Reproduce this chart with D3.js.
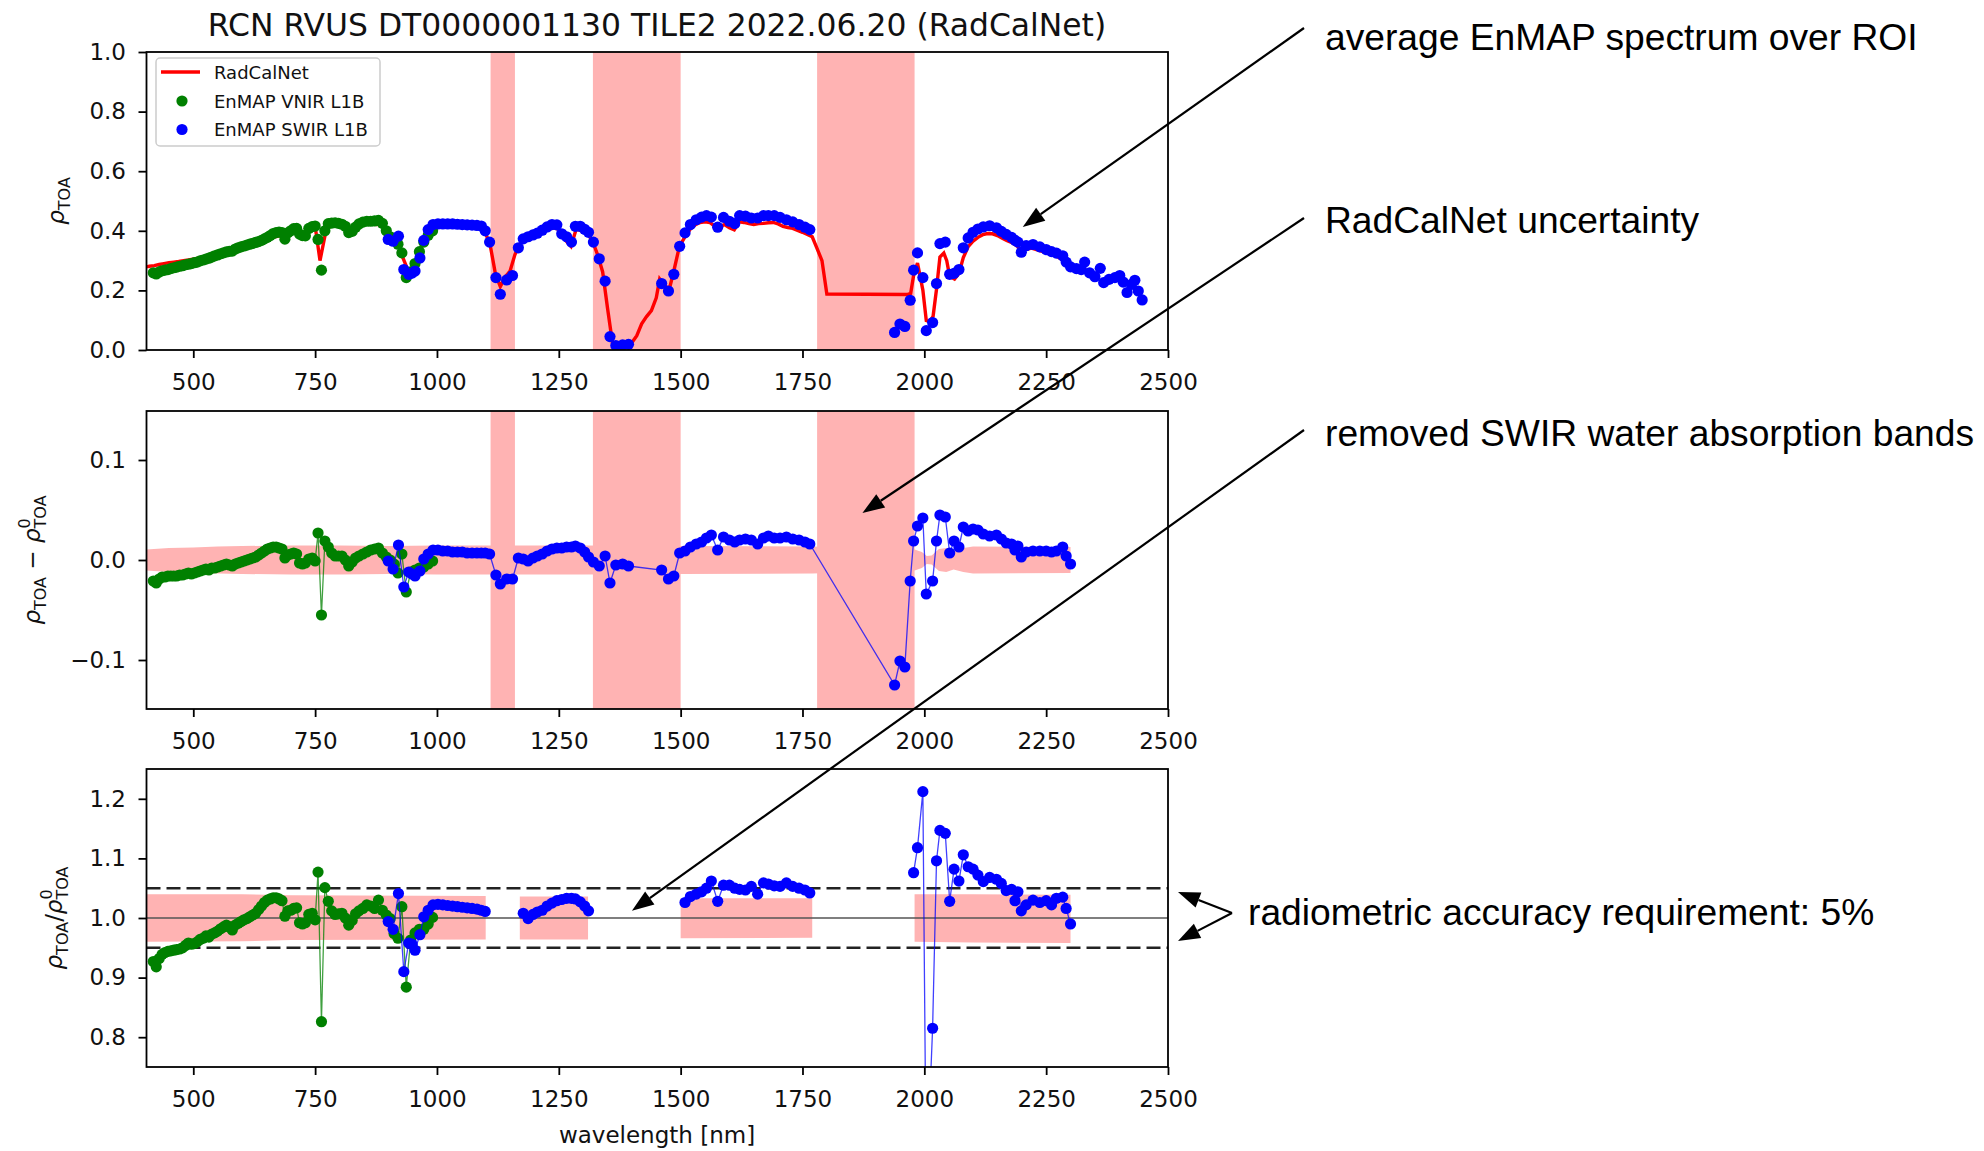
<!DOCTYPE html>
<html>
<head>
<meta charset="utf-8">
<script src="https://cdn.jsdelivr.net/npm/d3@7"></script>
<style>
  body { margin: 0; background: #fff; }
  text { font-family: "DejaVu Sans", sans-serif; }
</style>
</head>
<body>
<script>
// ---- EnMAP VNIR (green) : wavelength, rho_TOA, difference to RadCalNet, ratio to RadCalNet
var vnirWl = [418,424,430,436,442,448,454,460,466,472,
  478,484,490,496,502,508,514,520,526,532,
  538,544,550,556,562,568,574,580,586,592,
  598,604,610,616,622,628,634,640,646,652,
  658,664,670,676,682,688,694,700,706,712,
  718,724,730,737,744,750,756,763,770,777,
  784,791,798,805,812,819,826,833,840,848,
  856,864,872,880,888,896,904,912,920,928,
  937,946,955,964,973,982,991];
var vnirToa = [0.259,0.255,0.262,0.266,0.268,0.270,0.273,0.276,0.278,0.281,
  0.283,0.286,0.288,0.290,0.293,0.295,0.299,0.302,0.305,0.308,
  0.312,0.316,0.319,0.323,0.326,0.329,0.331,0.332,0.339,0.343,
  0.346,0.349,0.352,0.355,0.358,0.361,0.364,0.368,0.373,0.378,
  0.384,0.391,0.394,0.396,0.394,0.372,0.393,0.400,0.407,0.408,
  0.389,0.384,0.383,0.408,0.414,0.416,0.371,0.268,0.400,0.424,
  0.426,0.427,0.425,0.422,0.415,0.394,0.398,0.412,0.423,0.429,
  0.432,0.432,0.433,0.435,0.425,0.400,0.380,0.368,0.355,0.326,
  0.243,0.262,0.290,0.330,0.362,0.385,0.400];
var vnirDiff = [-0.021,-0.023,-0.019,-0.017,-0.017,-0.016,-0.016,-0.016,-0.016,-0.015,
  -0.015,-0.014,-0.013,-0.014,-0.013,-0.012,-0.011,-0.010,-0.009,-0.010,
  -0.008,-0.008,-0.007,-0.006,-0.005,-0.004,-0.005,-0.006,-0.004,-0.003,
  -0.002,-0.001,0.000,0.001,0.002,0.003,0.005,0.007,0.009,0.011,
  0.012,0.013,0.013,0.012,0.011,0.002,0.005,0.006,0.007,0.006,
  -0.003,-0.004,-0.003,0.001,0.002,-0.001,0.027,-0.055,0.019,0.013,
  0.007,0.004,0.004,0.004,0.000,-0.006,-0.002,0.002,0.004,0.006,
  0.008,0.010,0.011,0.012,0.007,0.003,0.000,-0.004,-0.013,0.006,
  -0.032,-0.012,-0.010,-0.008,-0.007,-0.004,-0.001];
var vnirRatio = [0.927,0.918,0.932,0.939,0.942,0.944,0.945,0.946,0.947,0.948,
  0.950,0.954,0.958,0.956,0.957,0.960,0.964,0.966,0.970,0.968,
  0.973,0.975,0.978,0.982,0.985,0.988,0.985,0.980,0.988,0.991,
  0.994,0.997,0.999,1.002,1.005,1.008,1.014,1.020,1.026,1.030,
  1.032,1.034,1.034,1.032,1.029,1.003,1.012,1.013,1.016,1.017,
  0.992,0.990,0.992,1.006,1.008,0.997,1.077,0.826,1.051,1.028,
  1.012,1.006,1.007,1.008,1.000,0.988,0.996,1.007,1.012,1.016,
  1.022,1.020,1.016,1.030,1.013,1.005,0.999,0.974,0.966,1.019,
  0.884,0.963,0.975,0.981,0.981,0.990,1.001];

// ---- EnMAP SWIR (blue); null = not shown in that panel
var swirWl = [900,910,921,932,942,949,955,965,973,982,
  992,1002,1012,1022,1032,1042,1052,1062,1072,1082,
  1091,1099,1108,1121,1130,1143,1155,1167,1177,1187,
  1197,1206,1216,1226,1236,1246,1256,1266,1276,1284,
  1294,1303,1311,1321,1333,1345,1355,1367,1381,1393,
  1461,1475,1486,1498,1509,1520,1532,1543,1553,1563,
  1576,1588,1600,1611,1621,1633,1645,1658,1670,1680,
  1692,1704,1717,1730,1743,1755,1765,1939,1950,1960,
  1971,1978,1986,1997,2004,2017,2025,2032,2043,2052,
  2061,2071,2080,2090,2100,2110,2121,2134,2148,2158,
  2168,2179,2186,2192,2199,2209,2223,2237,2250,2261,
  2271,2284,2291,2300,2312,2322,2329,2339,2350,2361,
  2368,2379,2391,2401,2408,2416,2425,2432,2439,2447];
var swirToa = [0.371,0.365,0.382,0.270,0.254,0.258,0.265,0.309,0.368,0.404,
  0.421,0.423,0.423,0.423,0.423,0.422,0.421,0.420,0.419,0.418,
  0.416,0.400,0.362,0.243,0.187,0.235,0.250,0.343,0.373,0.380,
  0.386,0.392,0.402,0.413,0.421,0.420,0.390,0.380,0.362,0.415,
  0.415,0.405,0.395,0.362,0.306,0.231,0.045,0.015,0.017,0.019,
  0.223,0.198,0.254,0.348,0.393,0.421,0.437,0.446,0.451,0.446,
  0.412,0.445,0.432,0.424,0.451,0.449,0.443,0.443,0.451,0.451,
  0.451,0.445,0.437,0.430,0.421,0.412,0.404,0.059,0.087,0.079,
  0.167,0.268,0.326,0.243,0.065,0.092,0.223,0.357,0.362,0.254,
  0.257,0.270,0.343,0.376,0.395,0.406,0.413,0.417,0.410,0.398,
  0.388,0.378,0.368,0.362,0.328,0.350,0.354,0.346,0.337,0.330,
  0.325,0.316,0.295,0.279,0.273,0.270,0.295,0.259,0.246,0.274,
  0.226,0.237,0.243,0.250,0.228,0.193,0.220,0.234,0.198,0.168];
var swirDiff = [-0.001,-0.009,0.015,-0.027,-0.012,-0.014,-0.016,-0.011,0.001,0.006,
  0.010,0.010,0.009,0.009,0.008,0.008,0.008,0.007,0.007,0.007,
  0.007,0.007,0.006,-0.015,-0.024,-0.019,-0.019,0.002,0.001,-0.001,
  0.002,0.004,0.006,0.009,0.011,0.012,0.012,0.013,0.013,0.014,
  0.012,0.008,0.003,-0.002,-0.006,0.004,-0.023,-0.005,-0.004,-0.006,
  -0.010,-0.019,-0.016,0.007,0.009,0.013,0.016,0.018,0.022,0.025,
  0.010,0.023,0.020,0.018,0.020,0.021,0.020,0.016,0.022,0.024,
  0.022,0.022,0.023,0.021,0.020,0.018,0.016,-0.125,-0.101,-0.107,
  -0.021,0.019,0.034,0.042,-0.034,-0.021,0.019,0.045,0.043,0.007,
  0.019,0.013,0.033,0.029,0.031,0.030,0.026,0.024,0.025,0.021,
  0.017,0.016,0.010,0.014,0.003,0.008,0.009,0.009,0.009,0.008,
  0.009,0.013,0.004,-0.004,null,null,null,null,null,null,
  null,null,null,null,null,null,null,null,null,null];
var swirRatio = [0.994,0.981,1.041,0.910,0.958,0.956,0.946,0.972,1.002,1.013,
  1.022,1.023,1.022,1.021,1.020,1.019,1.018,1.017,1.016,1.015,
  1.013,1.011,null,null,null,null,null,null,1.008,0.999,
  1.006,1.010,1.013,1.020,1.025,1.029,1.031,1.033,1.033,1.032,
  1.027,1.020,1.012,null,null,null,null,null,null,null,
  null,null,null,null,1.026,1.036,1.040,1.044,1.050,1.062,
  1.028,1.055,1.055,1.050,1.048,1.047,1.053,1.040,1.059,1.057,
  1.054,1.053,1.059,1.053,1.050,1.047,1.042,null,null,null,
  null,1.076,1.118,1.212,0.55,0.815,1.096,1.147,1.142,1.028,
  1.082,1.062,1.106,1.086,1.082,1.072,1.061,1.068,1.065,1.058,
  1.046,1.048,1.029,1.044,1.012,1.022,1.030,1.026,1.029,1.022,
  1.033,1.035,1.016,0.990,null,null,null,null,null,null,
  null,null,null,null,null,null,null,null,null,null];

// ---- RadCalNet reference spectrum
var rcnWl = [400,410,420,430,440,450,460,470,480,490,500,510,520,530,540,550,560,570,580,590,
  600,610,620,630,640,650,660,670,680,690,700,710,720,730,740,750,760,770,780,790,
  800,810,820,830,840,850,860,870,880,890,900,910,920,930,940,950,960,970,980,990,
  1000,1010,1020,1030,1040,1050,1060,1070,1080,1090,1100,1110,1120,1130,1140,1150,1160,1170,1180,1190,
  1200,1210,1220,1230,1240,1250,1260,1275,1285,1290,1300,1310,1320,1330,1340,1350,1360,1370,1380,1390,
  1400,1410,1420,1430,1440,1450,1457,1467,1477,1486,1495,1500,1510,1520,1530,1540,1550,1560,1570,1580,
  1590,1600,1610,1620,1630,1640,1650,1660,1670,1680,1690,1700,1710,1720,1730,1740,1750,1760,1770,1780,
  1790,1800,1965,1972,1978,1986,1997,2004,2011,2018,2025,2032,2040,2046,2052,2062,2071,2080,2090,2100,
  2110,2120,2130,2140,2150,2160,2170,2180,2190,2200,2210,2220,2230,2240,2250,2260,2270,2280,2290,2300];
var rcnToa = [0.278,0.281,0.283,0.287,0.290,0.293,0.295,0.297,0.300,0.302,0.305,0.308,0.312,0.316,0.320,0.325,0.329,0.334,0.338,0.343,
  0.348,0.352,0.356,0.359,0.362,0.367,0.375,0.381,0.384,0.387,0.393,0.400,0.392,0.386,0.404,0.416,0.300,0.382,0.418,0.423,
  0.421,0.417,0.400,0.403,0.418,0.423,0.424,0.422,0.421,0.418,0.385,0.376,0.366,0.310,0.270,0.270,0.300,0.355,0.390,0.405,
  0.413,0.414,0.414,0.415,0.414,0.414,0.413,0.412,0.412,0.410,0.392,0.345,0.255,0.213,0.245,0.265,0.320,0.355,0.370,0.381,
  0.383,0.390,0.398,0.406,0.410,0.405,0.375,0.348,0.402,0.404,0.397,0.390,0.362,0.318,0.262,0.140,0.025,0.010,0.010,0.012,
  0.025,0.048,0.088,0.112,0.132,0.175,0.238,0.215,0.206,0.265,0.330,0.355,0.383,0.406,0.420,0.428,0.430,0.428,0.415,0.413,
  0.421,0.410,0.403,0.430,0.428,0.424,0.421,0.424,0.425,0.427,0.428,0.423,0.415,0.411,0.408,0.401,0.395,0.388,0.380,0.340,
  0.300,0.188,0.186,0.190,0.250,0.292,0.201,0.099,0.095,0.113,0.204,0.312,0.325,0.300,0.247,0.238,0.257,0.310,0.347,0.365,
  0.378,0.387,0.391,0.390,0.384,0.375,0.367,0.360,0.350,0.330,0.338,0.342,0.337,0.332,0.328,0.323,0.316,0.306,0.292,0.283];

// ---- RadCalNet uncertainty: absolute half width (middle), relative bounds (bottom)
var midUncWl = [404,450,500,550,600,700,800,900,1000,1100,1300,1500,1770,1980,1995,2005,2015,2030,2045,2060,2080,2100,2300];
var midUnc = [0.0105,0.012,0.0125,0.0135,0.014,0.0145,0.0145,0.014,0.0145,0.0145,0.0145,0.014,0.0135,0.0105,0.008,0.004,0.0045,0.011,0.012,0.0095,0.012,0.0135,0.013];
var botUncWl = [404,600,700,1100,1135,1170,1310,1405,1500,1770,1875,1980,2100,2300];
var botUncHi = [1.040,1.040,1.038,1.037,null,1.036,1.036,null,1.033,1.033,null,1.040,1.040,1.039];
var botUncLo = [0.960,0.961,0.963,0.964,null,0.964,0.964,null,0.966,0.967,null,0.960,0.959,0.958];

var waterBands = [[1110,1160],[1320,1500],[1780,1980]];
var xTicks = [500,750,1000,1250,1500,1750,2000,2250,2500];
var topTicks = [0,0.2,0.4,0.6,0.8,1.0];
var midTicks = [-0.1,0,0.1];
var botTicks = [0.8,0.9,1.0,1.1,1.2];
var accuracy = 0.05;

var PINK = "#ffb3b3", GREEN = "#008000", BLUE = "#0000ff", RED = "#ff0000";
var R = 5.6;

var svg = d3.select("body").append("svg").attr("width", 1984).attr("height", 1151);
svg.append("rect").attr("width", 1984).attr("height", 1151).attr("fill", "#fff");

var x = d3.scaleLinear().domain([404, 2500]).range([146.5, 1168]);
var yTop = d3.scaleLinear().domain([0, 1]).range([350, 52]);
var yMid = d3.scaleLinear().domain([-0.149, 0.149]).range([709, 411]);
var yBot = d3.scaleLinear().domain([0.75, 1.25]).range([1067, 769]);

var zip = function(wl, v) { return wl.map(function(w, i) { return {w: w, v: v[i]}; }); };

function panel(id, y, ticks) {
  var g = svg.append("g");
  svg.append("clipPath").attr("id", id).append("rect")
    .attr("x", x.range()[0]).attr("y", y.range()[1])
    .attr("width", x.range()[1] - x.range()[0]).attr("height", y.range()[0] - y.range()[1]);
  var plot = g.append("g").attr("clip-path", "url(#" + id + ")");
  return {g: g, plot: plot, y: y, ticks: ticks};
}

function finish(p) {
  var y = p.y, g = p.g;
  g.append("rect").attr("x", x.range()[0]).attr("y", y.range()[1])
    .attr("width", x.range()[1] - x.range()[0]).attr("height", y.range()[0] - y.range()[1])
    .attr("fill", "none").attr("stroke", "#000").attr("stroke-width", 1.8);
  var ax = g.append("g").attr("transform", "translate(0," + y.range()[0] + ")")
    .call(d3.axisBottom(x).tickValues(xTicks).tickSize(8).tickPadding(15.5).tickFormat(d3.format("d")));
  var ay = g.append("g").attr("transform", "translate(" + x.range()[0] + ",0)")
    .call(d3.axisLeft(y).tickValues(p.ticks).tickSize(8).tickPadding(12.5).tickFormat(d3.format(".1f")));
  [ax, ay].forEach(function(a) {
    a.select(".domain").remove();
    a.selectAll("line").attr("stroke", "#000").attr("stroke-width", 1.8);
    a.selectAll("text").attr("fill", "#111").style("font-size", "23px").style("font-family", "DejaVu Sans");
  });
}

function bands(p) {
  p.plot.selectAll(null).data(waterBands).enter().append("rect")
    .attr("x", function(d) { return x(d[0]); }).attr("width", function(d) { return x(d[1]) - x(d[0]); })
    .attr("y", p.y.range()[1]).attr("height", p.y.range()[0] - p.y.range()[1]).attr("fill", PINK);
}

function dots(p, data, color) {
  p.plot.selectAll(null).data(data.filter(function(d) { return d.v != null; })).enter().append("circle")
    .attr("cx", function(d) { return x(d.w); }).attr("cy", function(d) { return p.y(d.v); })
    .attr("r", R).attr("fill", color);
}

function thinLine(p, data, color) {
  p.plot.append("path").datum(data)
    .attr("d", d3.line().defined(function(d) { return d.v != null; })
      .x(function(d) { return x(d.w); }).y(function(d) { return p.y(d.v); }))
    .attr("fill", "none").attr("stroke", color).attr("stroke-width", 1.3).attr("stroke-opacity", 0.75);
}

// ---------- top panel: TOA reflectance ----------
var pTop = panel("clipTop", yTop, topTicks);
bands(pTop);
pTop.plot.append("path").datum(zip(rcnWl, rcnToa))
  .attr("d", d3.line().x(function(d) { return x(d.w); }).y(function(d) { return yTop(d.v); }))
  .attr("fill", "none").attr("stroke", RED).attr("stroke-width", 3.4);
dots(pTop, zip(vnirWl, vnirToa), GREEN);
dots(pTop, zip(swirWl, swirToa), BLUE);
finish(pTop);

// legend
var lg = pTop.g.append("g");
lg.append("rect").attr("x", 156).attr("y", 58).attr("width", 224).attr("height", 88).attr("rx", 4)
  .attr("fill", "#fff").attr("fill-opacity", 0.8).attr("stroke", "#ccc").attr("stroke-width", 1.5);
lg.append("line").attr("x1", 161).attr("x2", 200).attr("y1", 72).attr("y2", 72).attr("stroke", RED).attr("stroke-width", 3.4);
lg.append("circle").attr("cx", 182).attr("cy", 101).attr("r", R).attr("fill", GREEN);
lg.append("circle").attr("cx", 182).attr("cy", 129.5).attr("r", R).attr("fill", BLUE);
[["RadCalNet", 79], ["EnMAP VNIR L1B", 107.5], ["EnMAP SWIR L1B", 136]].forEach(function(t) {
  lg.append("text").attr("x", 214).attr("y", t[1]).style("font-size", "18px").attr("fill", "#111").text(t[0]);
});

// ---------- middle panel: difference ----------
var pMid = panel("clipMid", yMid, midTicks);
pMid.plot.append("path").datum(zip(midUncWl, midUnc))
  .attr("d", d3.area().x(function(d) { return x(d.w); }).y0(function(d) { return yMid(-d.v); }).y1(function(d) { return yMid(d.v); }))
  .attr("fill", PINK);
bands(pMid);
thinLine(pMid, zip(vnirWl, vnirDiff), GREEN);
dots(pMid, zip(vnirWl, vnirDiff), GREEN);
thinLine(pMid, zip(swirWl, swirDiff).filter(function(d) { return d.v != null; }), BLUE);
dots(pMid, zip(swirWl, swirDiff), BLUE);
finish(pMid);

// ---------- bottom panel: ratio ----------
var pBot = panel("clipBot", yBot, botTicks);
var botUnc = botUncWl.map(function(w, i) { return {w: w, hi: botUncHi[i], lo: botUncLo[i]}; });
pBot.plot.append("path").datum(botUnc)
  .attr("d", d3.area().defined(function(d) { return d.hi != null; })
    .x(function(d) { return x(d.w); }).y0(function(d) { return yBot(d.lo); }).y1(function(d) { return yBot(d.hi); }))
  .attr("fill", PINK);
pBot.plot.append("line").attr("x1", x.range()[0]).attr("x2", x.range()[1]).attr("y1", yBot(1)).attr("y2", yBot(1))
  .attr("stroke", "#555").attr("stroke-width", 1.6);
[1 + accuracy, 1 - accuracy].forEach(function(v) {
  pBot.plot.append("line").attr("x1", x.range()[0]).attr("x2", x.range()[1]).attr("y1", yBot(v)).attr("y2", yBot(v))
    .attr("stroke", "#222").attr("stroke-width", 2.5).attr("stroke-dasharray", "14,6");
});
thinLine(pBot, zip(vnirWl, vnirRatio), GREEN);
dots(pBot, zip(vnirWl, vnirRatio), GREEN);
thinLine(pBot, zip(swirWl, swirRatio), BLUE);
dots(pBot, zip(swirWl, swirRatio), BLUE);
finish(pBot);

// ---------- title and axis labels ----------
svg.append("text").attr("x", 657).attr("y", 36).attr("text-anchor", "middle")
  .style("font-size", "31.4px").attr("fill", "#111").text("RCN RVUS DT0000001130 TILE2 2022.06.20 (RadCalNet)");
svg.append("text").attr("x", 657).attr("y", 1143).attr("text-anchor", "middle")
  .style("font-size", "23px").attr("fill", "#111").text("wavelength [nm]");

function ylabel(tx, ty, parts) {
  var t = svg.append("text").attr("transform", "translate(" + tx + "," + ty + ") rotate(-90)")
    .attr("text-anchor", "middle").style("font-size", "23px").attr("fill", "#111");
  parts.forEach(function(p) {
    var s = t.append("tspan").text(p.t);
    if (p.it) s.style("font-style", "italic");
    if (p.s) s.style("font-size", p.s + "px");
    if (p.dy) s.attr("dy", p.dy);
    if (p.dx) s.attr("dx", p.dx);
  });
}
ylabel(64, 201, [{t: "ρ", it: 1}, {t: "TOA", s: 16, dy: 6}]);
ylabel(40, 560, [{t: "ρ", it: 1}, {t: "TOA", s: 16, dy: 6}, {t: " − ", dy: -6}, {t: "ρ", it: 1},
  {t: "0", s: 16, dy: -10}, {t: "TOA", s: 16, dx: -10.2, dy: 16}]);
ylabel(62, 918, [{t: "ρ", it: 1}, {t: "TOA", s: 16, dy: 6}, {t: "/", dy: -6}, {t: "ρ", it: 1},
  {t: "0", s: 16, dy: -10}, {t: "TOA", s: 16, dx: -10.2, dy: 16}]);

// ---------- annotations ----------
var ann = svg.append("g");
function arrow(x1, y1, x2, y2) {
  var dx = x2 - x1, dy = y2 - y1, L = Math.hypot(dx, dy), ux = dx / L, uy = dy / L;
  var hl = 22, hw = 8, bx = x2 - ux * hl, by = y2 - uy * hl;
  ann.append("line").attr("x1", x1).attr("y1", y1).attr("x2", bx).attr("y2", by)
    .attr("stroke", "#000").attr("stroke-width", 2.2);
  ann.append("path").attr("d", "M" + x2 + "," + y2 + "L" + (bx - uy * hw) + "," + (by + ux * hw) +
    "L" + (bx + uy * hw) + "," + (by - ux * hw) + "Z").attr("fill", "#000");
}
arrow(1304, 28, x(2202), yTop(0.413));
arrow(1304, 218, x(1873), yMid(0.047));
arrow(1304, 430, x(1400), yBot(1.012));
arrow(1232, 913, 1178, 892);
arrow(1232, 913, 1178, 941);

var notes = [["average EnMAP spectrum over ROI", 1325, 50],
  ["RadCalNet uncertainty", 1325, 233],
  ["removed SWIR water absorption bands", 1325, 446],
  ["radiometric accuracy requirement: 5%", 1248, 925]];
notes.forEach(function(n) {
  ann.append("text").attr("x", n[1]).attr("y", n[2]).style("font-family", "'Liberation Sans', Arial, sans-serif")
    .style("font-size", "37.2px").attr("fill", "#000").text(n[0]);
});
</script>
</body>
</html>
